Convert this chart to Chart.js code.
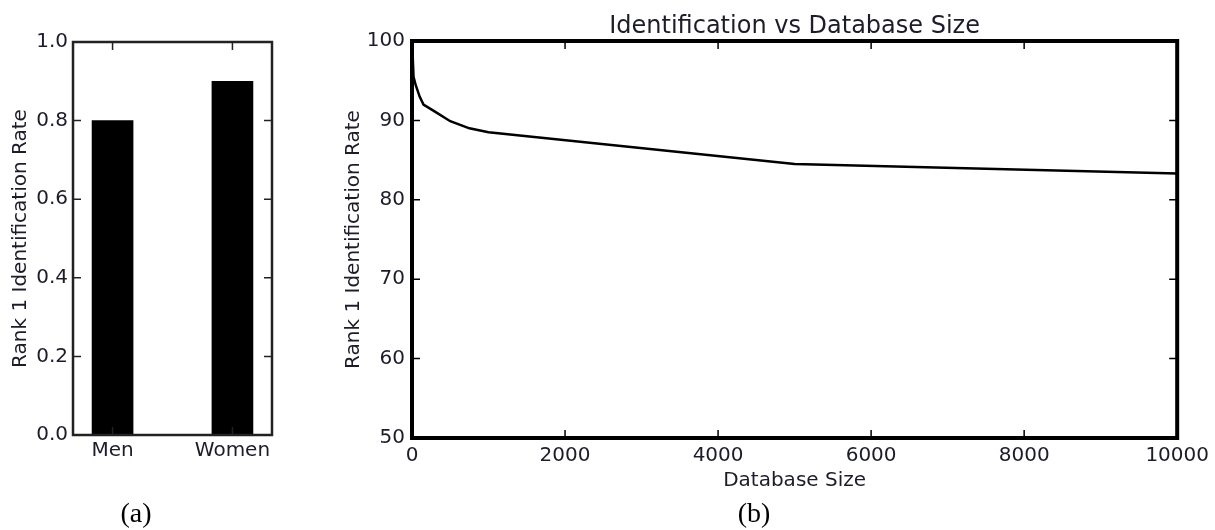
<!DOCTYPE html>
<html>
<head>
<meta charset="utf-8">
<script src="https://cdn.jsdelivr.net/npm/chart.js@4/dist/chart.umd.min.js"></script>
<style>
  html, body { margin: 0; padding: 0; background: #fff; }
  body { width: 1215px; height: 530px; position: relative; overflow: hidden; }
  canvas { position: absolute; top: 0; }
  #genderChart { left: 0; }
  #sizeChart { left: 330px; }
</style>
</head>
<body>
<canvas id="genderChart" width="284" height="530"></canvas>
<canvas id="sizeChart" width="885" height="530"></canvas>
<script>
// (a) rank-1 rate by gender
const genderLabels = ["Men", "Women"];
const genderRates = [0.8, 0.9];
const genderTicks = [0, 0.2, 0.4, 0.6, 0.8, 1.0];

// (b) rank-1 rate vs database size
const dbSizes = [1, 20, 50, 100, 150, 300, 500, 750, 1000, 5000, 10000];
const dbRates = [100, 95.5, 94.4, 93.0, 92.0, 91.1, 89.9, 89.0, 88.5, 84.5, 83.3];
const sizeTicks = [0, 2000, 4000, 6000, 8000, 10000];
const rateTicks = [50, 60, 70, 80, 90, 100];

const TEXT = "#1c1c2a";
const SANS = "'DejaVu Sans', sans-serif";

// matplotlib-style frame with inward tick marks on all four sides
const frameTicks = {
  id: "frameTicks",
  afterDatasetsDraw(chart, args, opts) {
    const { ctx, chartArea: a, scales } = chart;
    ctx.save();
    ctx.strokeStyle = opts.color;
    ctx.lineWidth = opts.tickWidth;
    ctx.beginPath();
    scales.x.ticks.forEach((t) => {
      const px = scales.x.getPixelForValue(t.value);
      ctx.moveTo(px, a.top);
      ctx.lineTo(px, a.top + opts.len);
      ctx.moveTo(px, a.bottom);
      ctx.lineTo(px, a.bottom - opts.len);
    });
    scales.y.ticks.forEach((t) => {
      const py = scales.y.getPixelForValue(t.value);
      ctx.moveTo(a.left, py);
      ctx.lineTo(a.left + opts.len, py);
      ctx.moveTo(a.right, py);
      ctx.lineTo(a.right - opts.len, py);
    });
    ctx.stroke();
    ctx.lineWidth = opts.width;
    ctx.strokeRect(a.left, a.top, a.width, a.height);
    ctx.restore();
  },
};

function fixedTicks(values) {
  return (axis) => {
    axis.ticks = values.map((v) => ({ value: v }));
  };
}

const genderChart = new Chart(document.getElementById("genderChart"), {
  type: "bar",
  data: {
    datasets: [
      {
        data: genderRates.map((r, i) => ({ x: i, y: r })),
        backgroundColor: "#000",
        borderWidth: 0,
        barThickness: 41,
      },
    ],
  },
  plugins: [frameTicks],
  options: {
    responsive: false,
    animation: false,
    layout: { padding: { top: 42, right: 12, left: 0, bottom: 0 } },
    plugins: {
      legend: { display: false },
      tooltip: { enabled: false },
      subtitle: {
        display: true,
        text: "(a)",
        position: "bottom",
        color: "#000",
        font: { family: "'Liberation Serif', serif", size: 28, lineHeight: 1 },
        padding: { top: 0, bottom: 1 },
      },
      frameTicks: { color: "#222", width: 2.5, tickWidth: 1.5, len: 8 },
    },
    scales: {
      x: {
        type: "linear",
        min: -0.33,
        max: 1.33,
        offset: false,
        afterBuildTicks: fixedTicks(genderLabels.map((_, i) => i)),
        afterFit: (s) => { s.height = 66; },
        grid: { display: false, drawTicks: false },
        border: { display: false },
        ticks: {
          autoSkip: false,
          maxRotation: 0,
          padding: 4,
          color: TEXT,
          font: { family: SANS, size: 20 },
          callback: (v) => genderLabels[v] ?? "",
        },
      },
      y: {
        min: 0,
        max: 1,
        afterBuildTicks: fixedTicks(genderTicks),
        afterFit: (s) => { s.width = 73; },
        grid: { display: false, drawTicks: false },
        border: { display: false },
        ticks: {
          padding: 5,
          color: TEXT,
          font: { family: SANS, size: 20 },
          callback: (v) => Number(v).toFixed(1),
        },
        title: {
          display: true,
          text: "Rank 1 Identification Rate",
          color: TEXT,
          font: { family: SANS, size: 20 },
          padding: { top: 9, bottom: 0 },
        },
      },
    },
  },
});

const sizeChart = new Chart(document.getElementById("sizeChart"), {
  type: "line",
  data: {
    datasets: [
      {
        data: dbSizes.map((s, i) => ({ x: s, y: dbRates[i] })),
        borderColor: "#000",
        borderWidth: 2.5,
        pointRadius: 0,
        tension: 0,
        fill: false,
      },
    ],
  },
  plugins: [frameTicks],
  options: {
    responsive: false,
    animation: false,
    layout: { padding: { top: 0, right: 37, left: 0, bottom: 0 } },
    plugins: {
      legend: { display: false },
      tooltip: { enabled: false },
      title: {
        display: true,
        fullSize: false,
        text: "Identification vs Database Size",
        color: TEXT,
        font: { family: SANS, size: 24, weight: "normal", lineHeight: 1.2 },
        padding: { top: 12, bottom: 0.2 },
      },
      subtitle: {
        display: true,
        text: "(b)",
        position: "bottom",
        color: "#000",
        font: { family: "'Liberation Serif', serif", size: 28, lineHeight: 1 },
        padding: { top: 0, bottom: 1 },
      },
      frameTicks: { color: "#000", width: 4, tickWidth: 1.5, len: 8 },
    },
    scales: {
      x: {
        type: "linear",
        min: 0,
        max: 10000,
        afterBuildTicks: fixedTicks(sizeTicks),
        afterFit: (s) => { s.height = 63; },
        grid: { display: false, drawTicks: false },
        border: { display: false },
        ticks: {
          autoSkip: false,
          maxRotation: 0,
          padding: 6,
          color: TEXT,
          font: { family: SANS, size: 20 },
          callback: (v) => String(v),
        },
        title: {
          display: true,
          text: "Database Size",
          color: TEXT,
          font: { family: SANS, size: 20 },
          padding: { top: 0, bottom: 8 },
        },
      },
      y: {
        min: 50,
        max: 100,
        afterBuildTicks: fixedTicks(rateTicks),
        afterFit: (s) => { s.width = 82; },
        grid: { display: false, drawTicks: false },
        border: { display: false },
        ticks: {
          padding: 7,
          color: TEXT,
          font: { family: SANS, size: 20 },
          callback: (v) => String(v),
        },
        title: {
          display: true,
          text: "Rank 1 Identification Rate",
          color: TEXT,
          font: { family: SANS, size: 20 },
          padding: { top: 12, bottom: 0 },
        },
      },
    },
  },
});
</script>
</body>
</html>
